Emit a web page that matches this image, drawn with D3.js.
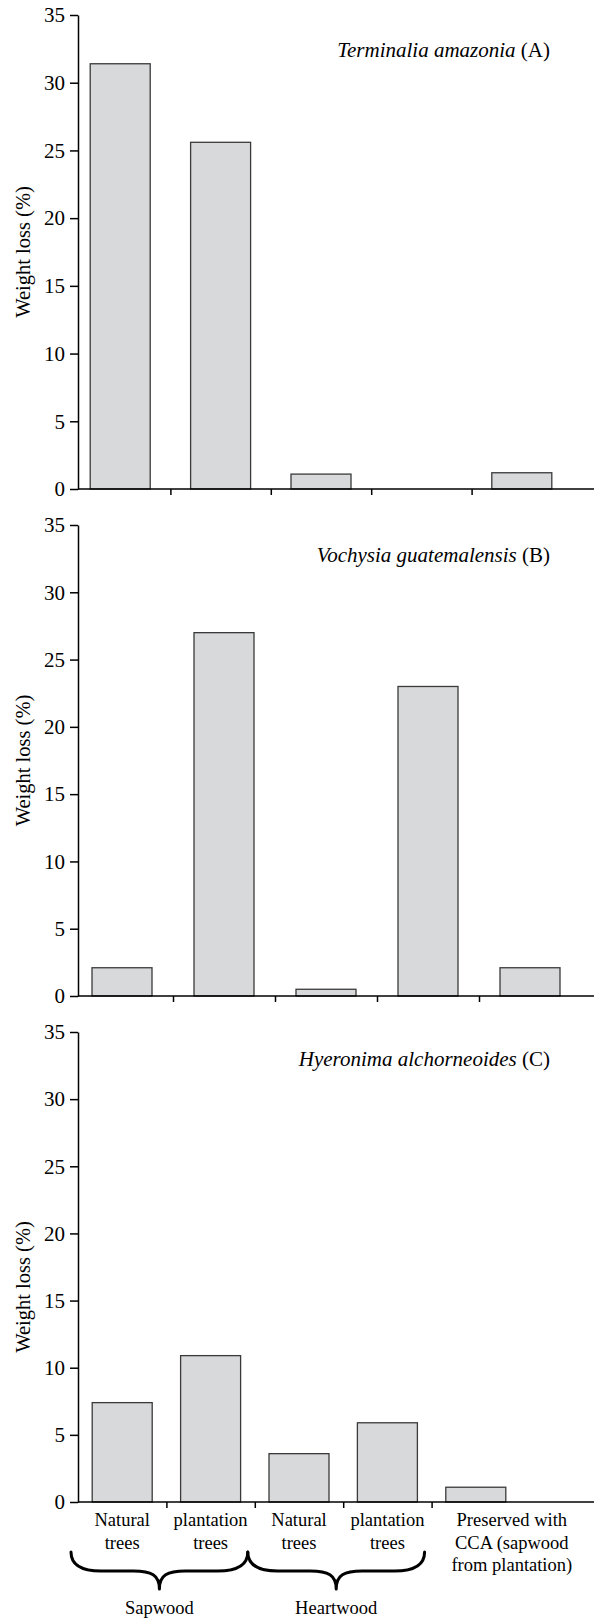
<!DOCTYPE html>
<html>
<head>
<meta charset="utf-8">
<script src="https://cdn.jsdelivr.net/npm/d3@7"></script>
<style>
body { margin: 0; background: #fff; }
svg { display: block; }
text { font-family: "Liberation Serif", "DejaVu Serif", serif !important; fill: #000; }
.axis path, .axis line { stroke: #000; stroke-width: 1.5; }
.axis text { font-size: 21px; }
.bar { fill: #d8d9db; stroke: #3a3a3a; stroke-width: 1.3; }
</style>
</head>
<body>
<svg width="594" height="1618"></svg>
<script>
// data
var categories = ["sapNatural", "sapPlantation", "heartNatural", "heartPlantation", "cca"];
var categoryLines = [
  ["Natural", "trees"],
  ["plantation", "trees"],
  ["Natural", "trees"],
  ["plantation", "trees"],
  ["Preserved with", "CCA (sapwood", "from plantation)"]
];
var terminalia = [31.4, 25.6, 1.1, 0, 1.2];
var vochysia = [2.1, 27.0, 0.5, 23.0, 2.1];
var hyeronima = [7.4, 10.9, 3.6, 5.9, 1.1];
var species = ["Terminalia amazonia", "Vochysia guatemalensis", "Hyeronima alchorneoides"];
var letters = ["(A)", "(B)", "(C)"];
var yTicks = [0, 5, 10, 15, 20, 25, 30, 35];
var groupLabels = ["Sapwood", "Heartwood"];
var groupSpans = [[0, 1], [2, 3]];

var series = [terminalia, vochysia, hyeronima];

// layout of the three stacked panels
var axisX = 78, barWidth = 60, svgWidth = 594;
var panels = [
  {top: 15, bottom: 489, x0: 70, x1: 572, titleDy: 42, labelDy: 0},
  {top: 525, bottom: 996, x0: 71, x1: 581, titleDy: 37, labelDy: 0},
  {top: 1032, bottom: 1502, x0: 78, x1: 520, titleDy: 34, labelDy: 20}
];

var svg = d3.select("svg");

panels.forEach(function(p, k) {
  var n = categories.length,
      step = (p.x1 - p.x0) / n,
      pad = 1 - barWidth / step;

  var x = d3.scaleBand().domain(categories).range([p.x0, p.x1])
      .paddingInner(pad).paddingOuter(pad / 2);
  var edge = d3.scaleLinear().domain([0, n]).range([p.x0, p.x1]);
  var y = d3.scaleLinear().domain([0, 35]).range([p.bottom, p.top]);

  var g = svg.append("g");

  var rows = series[k].map(function(v, i) { return {cat: categories[i], value: v}; })
      .filter(function(d) { return d.value > 0; });

  g.selectAll(".bar")
    .data(rows)
    .enter().append("rect")
      .attr("class", "bar")
      .attr("x", function(d) { return x(d.cat); })
      .attr("width", x.bandwidth())
      .attr("y", function(d) { return y(d.value); })
      .attr("height", function(d) { return y(0) - y(d.value); });

  // x ticks sit on the category boundaries
  g.append("g")
      .attr("class", "axis")
      .attr("transform", "translate(0," + p.bottom + ")")
      .call(d3.axisBottom(edge).tickValues(d3.range(1, n)).tickSize(6).tickFormat(""))
    .select(".domain").remove();

  g.append("line")
      .attr("x1", axisX).attr("x2", svgWidth)
      .attr("y1", y(0)).attr("y2", y(0))
      .attr("stroke", "#000").attr("stroke-width", 1.5);

  g.append("g")
      .attr("class", "axis")
      .attr("transform", "translate(" + axisX + ",0)")
      .call(d3.axisLeft(y).tickValues(yTicks).tickSize(8).tickSizeOuter(0).tickPadding(5));

  g.append("text")
      .attr("transform", "translate(23," + ((p.top + p.bottom) / 2 + p.labelDy) + ") rotate(-90)")
      .attr("text-anchor", "middle")
      .attr("dy", "0.35em")
      .style("font-size", "20.5px")
      .text("Weight loss (%)");

  var title = g.append("text")
      .attr("x", 550)
      .attr("y", p.top + p.titleDy)
      .attr("text-anchor", "end")
      .style("font-size", "21px");
  title.append("tspan").style("font-style", "italic").text(species[k]);
  title.append("tspan").text(" " + letters[k]);

  if (k === panels.length - 1) {
    var labels = g.selectAll(".cat")
      .data(categories)
      .enter().append("text")
        .attr("class", "cat")
        .attr("text-anchor", "middle")
        .attr("transform", function(d, i) {
          var cx = x(d) + x.bandwidth() / 2 + (i === n - 1 ? 36 : 0);
          return "translate(" + cx + "," + (p.bottom + 24) + ")";
        })
        .style("font-size", "18.5px");

    labels.selectAll("tspan")
      .data(function(d, i) { return categoryLines[i]; })
      .enter().append("tspan")
        .attr("x", 0)
        .attr("y", function(d, j) { return j * 22.5; })
        .text(function(d) { return d; });

    var y0 = p.bottom + 50;
    groupSpans.forEach(function(s, j) {
      var xa = edge(s[0]) - 7, xb = edge(s[1] + 1) - 7;
      g.append("path")
          .attr("d", brace(xa, xb, y0))
          .attr("fill", "none")
          .attr("stroke", "#000")
          .attr("stroke-width", 3)
          .attr("stroke-linecap", "round")
          .attr("stroke-linejoin", "round");
      g.append("text")
          .attr("x", (xa + xb) / 2)
          .attr("y", p.bottom + 112)
          .attr("text-anchor", "middle")
          .style("font-size", "18.5px")
          .text(groupLabels[j]);
    });
  }
});

function brace(xa, xb, y0) {
  var xm = (xa + xb) / 2, ym = y0 + 19, yt = y0 + 37;
  return "M" + xa + "," + y0 +
    "C" + xa + "," + (ym - 6) + " " + (xa + 10) + "," + ym + " " + (xa + 30) + "," + ym +
    "L" + (xm - 26) + "," + ym +
    "C" + (xm - 8) + "," + ym + " " + xm + "," + (ym + 4) + " " + xm + "," + yt +
    "C" + xm + "," + (ym + 4) + " " + (xm + 8) + "," + ym + " " + (xm + 26) + "," + ym +
    "L" + (xb - 30) + "," + ym +
    "C" + (xb - 10) + "," + ym + " " + xb + "," + (ym - 6) + " " + xb + "," + y0;
}
</script>
</body>
</html>
